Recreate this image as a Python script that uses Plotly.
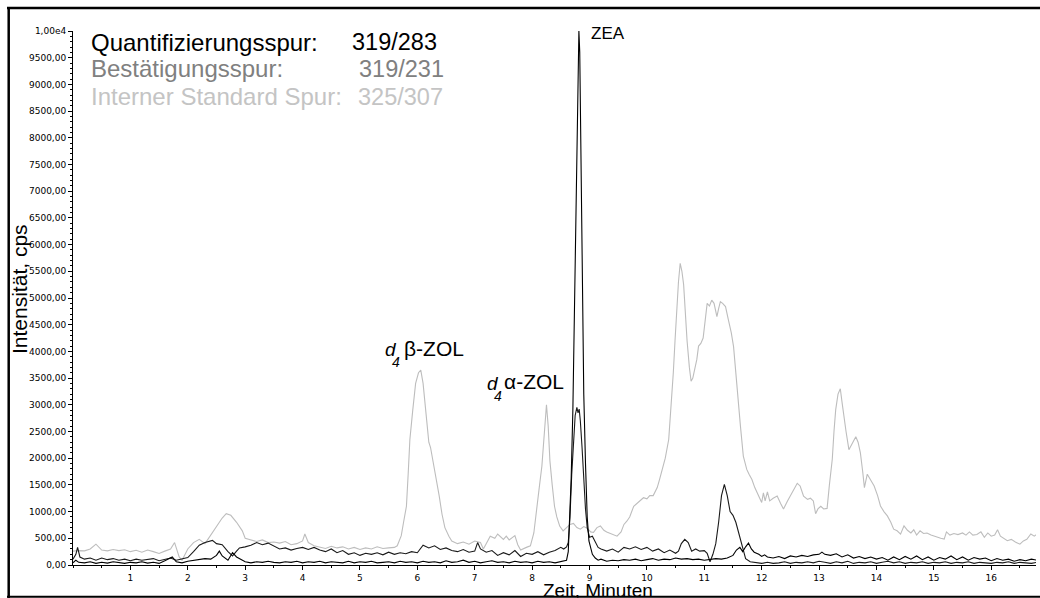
import plotly.graph_objects as go

# ---------------- data ----------------
# Interner Standard Spur 325/307 (light grey)
is_t = [0.0, 0.1, 0.2, 0.3, 0.4, 0.5, 0.6, 0.7, 0.8, 0.9, 1.0, 1.1, 1.2, 1.3, 1.4, 1.5, 1.6, 1.7, 1.77, 1.85,
        1.9, 2.0, 2.1, 2.2, 2.3, 2.4, 2.5, 2.6, 2.67, 2.75, 2.85, 2.95, 3.0, 3.1, 3.2, 3.3, 3.4, 3.5, 3.6, 3.7,
        3.8, 3.9, 4.0, 4.04, 4.1, 4.2, 4.3, 4.4, 4.5, 4.6, 4.7, 4.8, 4.9, 5.0, 5.1, 5.2, 5.3, 5.4, 5.5, 5.6,
        5.65, 5.72, 5.76, 5.81, 5.84, 5.87, 5.92, 5.97, 6.02, 6.06, 6.10, 6.15, 6.2, 6.23, 6.28, 6.33, 6.38, 6.43, 6.48, 6.55,
        6.6, 6.7, 6.8, 6.9, 7.0, 7.1, 7.15, 7.2, 7.27, 7.35, 7.4, 7.5, 7.55, 7.6, 7.7, 7.75, 7.8, 7.9, 7.97, 8.03,
        8.08, 8.13, 8.17, 8.21, 8.25, 8.28, 8.31, 8.35, 8.39, 8.43, 8.48, 8.54, 8.6, 8.66, 8.72, 8.78, 8.84, 8.9, 8.96, 9.02,
        9.07, 9.13, 9.19, 9.25, 9.3, 9.4, 9.48, 9.55, 9.6, 9.65, 9.7, 9.77, 9.82, 9.88, 9.94, 10.0, 10.05, 10.11, 10.18, 10.22,
        10.26, 10.32, 10.38, 10.42, 10.46, 10.49, 10.52, 10.55, 10.58, 10.61, 10.64, 10.67, 10.70, 10.74, 10.77, 10.80, 10.84, 10.87, 10.90, 10.94,
        10.98, 11.02, 11.05, 11.09, 11.13, 11.17, 11.2, 11.22, 11.25, 11.28, 11.32, 11.37, 11.42, 11.47, 11.51, 11.54, 11.57, 11.6, 11.63, 11.68,
        11.74, 11.78, 11.83, 11.88, 11.92, 11.96, 12.0, 12.03, 12.06, 12.1, 12.14, 12.2, 12.27, 12.33, 12.38, 12.45, 12.5, 12.55, 12.62, 12.67,
        12.73, 12.8, 12.85, 12.9, 12.94, 12.98, 13.03, 13.08, 13.14, 13.18, 13.23, 13.26, 13.29, 13.33, 13.37, 13.40, 13.43, 13.47, 13.52, 13.57,
        13.64, 13.68, 13.72, 13.76, 13.79, 13.84, 13.9, 13.96, 14.02, 14.07, 14.13, 14.19, 14.25, 14.3, 14.36, 14.42, 14.48, 14.54, 14.6, 14.65,
        14.7, 14.76, 14.82, 14.88, 14.95, 15.0, 15.06, 15.12, 15.18, 15.22, 15.28, 15.35, 15.42, 15.5, 15.56, 15.62, 15.68, 15.75, 15.82, 15.88,
        15.94, 16.0, 16.06, 16.11, 16.16, 16.22, 16.28, 16.35, 16.42, 16.5, 16.56, 16.62, 16.69, 16.75, 16.8]
is_v = [260, 270, 265, 300, 390, 280, 265, 290, 270, 285, 250, 275, 240, 280, 250, 215, 260, 300, 420, 150,
        90, 300, 420, 480, 400, 560, 700, 880, 960, 930, 800, 640, 500, 470, 440, 470, 420, 430, 410, 440,
        380, 400, 450, 580, 420, 360, 340, 310, 350, 320, 340, 300, 330, 290, 320, 300, 340, 310, 320, 330,
        360, 550, 800, 1100, 1700, 2350, 2900, 3400, 3600, 3650, 3400, 2900, 2300, 2200, 1900, 1650, 1300, 950, 700, 540,
        450, 400, 430, 390, 450, 420, 300, 400, 540, 500, 580, 480, 540, 470, 550, 380, 280, 330, 360, 600,
        1000, 1500, 1850, 2400, 3000, 2600, 1950, 1500, 1100, 900, 730, 640, 700, 760, 780, 700, 670, 720, 690, 620,
        610, 700, 730, 650, 620, 580, 540, 620, 760, 820, 900, 1100, 1150, 1200, 1260, 1240, 1300, 1300, 1450, 1600,
        1750, 2000, 2350, 2900, 3600, 4200, 4850, 5300, 5650, 5500, 5250, 4700, 4200, 3700, 3440, 3500, 3720, 3850, 4100, 4150,
        4250, 4600, 4900, 4850, 4960, 4900, 4700, 4650, 4800, 4930, 4900, 4840, 4590, 4350, 4090, 3700, 3280, 2900, 2600, 2040,
        1790, 1700, 1600, 1450, 1356, 1250, 1170, 1350, 1200, 1370, 1200, 1250, 1290, 1150, 1050, 1200, 1300, 1400, 1530, 1480,
        1290, 1230, 1250, 1200, 960, 1050, 1100, 1050, 1060, 1500, 1980, 2500, 2910, 3200, 3300, 3050, 2850, 2500, 2160, 2250,
        2400, 2300, 2100, 1750, 1450, 1700, 1600, 1480, 1300, 1106, 1000, 920, 800, 672, 640, 578, 733, 650, 600, 660,
        560, 640, 590, 600, 560, 540, 520, 500, 485, 620, 560, 590, 570, 600, 560, 620, 560, 570, 620, 520,
        600, 540, 560, 660, 540, 500, 454, 480, 430, 390, 450, 480, 580, 540, 580]

# Quantifizierungsspur 319/283 (black)
quant_t = [0.0, 0.05, 0.1, 0.2, 0.3, 0.4, 0.5, 0.6, 0.7, 0.8, 0.9, 1.0, 1.1, 1.2, 1.3, 1.4, 1.5, 1.6, 1.73, 1.8,
           1.9, 2.0, 2.1, 2.2, 2.3, 2.4, 2.5, 2.55, 2.6, 2.7, 2.78, 2.85, 2.95, 3.0, 3.1, 3.2, 3.3, 3.4, 3.5, 3.6,
           3.7, 3.8, 3.9, 4.0, 4.1, 4.2, 4.3, 4.4, 4.5, 4.6, 4.7, 4.8, 4.9, 5.0, 5.1, 5.2, 5.3, 5.4, 5.5, 5.6,
           5.7, 5.8, 5.9, 6.0, 6.1, 6.2, 6.3, 6.4, 6.5, 6.6, 6.7, 6.8, 6.9, 7.0, 7.1, 7.2, 7.3, 7.4, 7.5, 7.6,
           7.7, 7.8, 7.9, 8.0, 8.1, 8.2, 8.3, 8.4, 8.5, 8.56, 8.60, 8.63, 8.65, 8.68, 8.71, 8.74, 8.77, 8.80, 8.815, 8.83,
           8.85, 8.87, 8.90, 8.93, 8.96, 8.99, 9.02, 9.05, 9.1, 9.15, 9.2, 9.3, 9.4, 9.5, 9.6, 9.7, 9.8, 9.9, 10.0, 10.1,
           10.2, 10.3, 10.4, 10.5, 10.6, 10.7, 10.8, 10.9, 11.0, 11.1, 11.2, 11.3, 11.4, 11.5, 11.56, 11.62, 11.67, 11.72, 11.77, 11.82,
           11.87, 11.95, 12.0, 12.05, 12.1, 12.2, 12.3, 12.4, 12.5, 12.6, 12.7, 12.8, 12.9, 13.0, 13.05, 13.1, 13.2, 13.3, 13.4, 13.5,
           13.6, 13.7, 13.8, 13.9, 14.0, 14.1, 14.2, 14.3, 14.4, 14.5, 14.6, 14.7, 14.8, 14.9, 15.0, 15.1, 15.2, 15.3, 15.4, 15.5,
           15.6, 15.7, 15.8, 15.9, 16.0, 16.1, 16.2, 16.3, 16.4, 16.5, 16.6, 16.7, 16.8]
quant_v = [40, 90, 50, 40, 60, 30, 50, 35, 60, 40, 30, 50, 40, 60, 35, 50, 30, 80, 150, 60,
           40, 70, 90, 100, 120, 110, 180, 260, 170, 90, 230, 150, 100, 60, 40, 60, 50, 70, 50, 40,
           60, 50, 70, 40, 60, 50, 70, 40, 60, 50, 40, 70, 40, 60, 50, 70, 40, 50, 60, 40,
           70, 50, 60, 40, 70, 50, 60, 40, 80, 50, 60, 90, 50, 70, 40, 60, 80, 50, 60, 40,
           70, 50, 60, 40, 70, 50, 60, 40, 60, 70, 90, 250, 700, 1600, 2900, 5000, 7300, 9700, 10000, 9600,
           7800, 5300, 3200, 1900, 900, 450, 300, 200, 130, 90, 110, 70, 90, 80, 100, 90, 110, 80, 100, 120,
           90, 110, 100, 130, 110, 120, 100, 110, 90, 100, 120, 110, 130, 180, 280, 330, 250, 340, 410, 300,
           240, 200, 160, 190, 150, 130, 160, 120, 170, 150, 180, 160, 190, 200, 240, 200, 180, 210, 150, 190,
           130, 160, 120, 150, 110, 140, 90, 150, 100, 160, 110, 170, 100, 150, 90, 140, 110, 170, 100, 150,
           90, 140, 110, 130, 80, 120, 90, 110, 70, 100, 80, 110, 90]

# Bestaetigungsspur 319/231 (dark)
conf_t = [0.0, 0.05, 0.08, 0.12, 0.2, 0.3, 0.4, 0.5, 0.6, 0.7, 0.8, 0.9, 1.0, 1.1, 1.2, 1.3, 1.4, 1.5, 1.6, 1.7,
          1.8, 1.9, 2.0, 2.1, 2.2, 2.3, 2.35, 2.43, 2.5, 2.6, 2.7, 2.78, 2.85, 2.9, 3.0, 3.1, 3.2, 3.3, 3.4, 3.5,
          3.6, 3.7, 3.8, 3.9, 4.0, 4.1, 4.2, 4.3, 4.4, 4.5, 4.6, 4.7, 4.8, 4.9, 5.0, 5.1, 5.2, 5.3, 5.4, 5.5,
          5.6, 5.7, 5.8, 5.9, 6.0, 6.1, 6.2, 6.3, 6.4, 6.5, 6.6, 6.7, 6.8, 6.9, 7.0, 7.05, 7.1, 7.2, 7.3, 7.4,
          7.5, 7.6, 7.7, 7.8, 7.9, 8.0, 8.1, 8.2, 8.3, 8.4, 8.5, 8.55, 8.6, 8.63, 8.66, 8.69, 8.72, 8.75, 8.78, 8.80,
          8.82, 8.84, 8.87, 8.90, 8.93, 8.96, 9.0, 9.05, 9.1, 9.15, 9.2, 9.3, 9.4, 9.5, 9.6, 9.7, 9.8, 9.9, 10.0, 10.1,
          10.2, 10.3, 10.4, 10.5, 10.55, 10.6, 10.66, 10.72, 10.78, 10.85, 10.92, 11.0, 11.05, 11.1, 11.15, 11.2, 11.25, 11.3, 11.35, 11.4,
          11.45, 11.5, 11.55, 11.6, 11.64, 11.68, 11.72, 11.8, 11.9, 12.0, 12.1, 12.2, 12.3, 12.4, 12.5, 12.6, 12.7, 12.8, 12.9, 13.0,
          13.1, 13.2, 13.3, 13.4, 13.5, 13.6, 13.7, 13.8, 13.9, 14.0, 14.1, 14.2, 14.3, 14.4, 14.5, 14.6, 14.7, 14.8, 14.9, 15.0,
          15.1, 15.2, 15.3, 15.4, 15.5, 15.6, 15.7, 15.8, 15.9, 16.0, 16.1, 16.2, 16.3, 16.4, 16.5, 16.6, 16.7, 16.8]
conf_v = [110, 200, 330, 150, 110, 130, 90, 130, 100, 120, 90, 110, 80, 110, 90, 100, 120, 80, 110, 130,
          90, 110, 140, 250, 370, 420, 440, 460, 400, 380, 250, 170, 260, 320, 340, 370, 420, 380, 410, 360,
          300, 320, 280, 310, 330, 290, 330, 280, 250, 300, 230, 270, 200, 230, 180, 220, 200, 230, 190, 240,
          200, 230, 210, 250, 230, 370, 320, 360, 290, 320, 270, 250, 290, 240, 260, 420, 300, 240, 270, 180,
          230, 190, 270, 160, 220, 200, 250, 190, 240, 270, 330, 300, 340, 420, 900, 1700, 2400, 2800, 2950, 2850,
          2920, 2700, 2200, 1600, 1050, 700, 520, 540, 420, 330, 300, 260, 300, 240, 330, 300, 340, 290, 330, 260,
          300, 230, 280, 220, 260, 400, 480, 420, 260, 300, 260, 270, 220, 60, 200, 400, 800, 1300, 1510, 1300,
          1000, 930, 800, 600, 420, 250, 120, 60, 40, 30, 50, 30, 40, 60, 30, 50, 40, 60, 40, 70,
          50, 30, 60, 40, 70, 30, 50, 40, 60, 30, 50, 70, 40, 60, 30, 50, 40, 60, 30, 50,
          40, 60, 30, 50, 40, 60, 30, 50, 40, 30, 50, 40, 60, 30, 50, 40, 30, 50]

y_tick_vals = [0, 500, 1000, 1500, 2000, 2500, 3000, 3500, 4000, 4500, 5000,
               5500, 6000, 6500, 7000, 7500, 8000, 8500, 9000, 9500, 10000]
y_tick_text = ["0,00", "500,00", "1000,00", "1500,00", "2000,00", "2500,00", "3000,00",
               "3500,00", "4000,00", "4500,00", "5000,00", "5500,00", "6000,00", "6500,00",
               "7000,00", "7500,00", "8000,00", "8500,00", "9000,00", "9500,00", "1,00e4"]
x_tick_vals = [1, 2, 3, 4, 5, 6, 7, 8, 9, 10, 11, 12, 13, 14, 15, 16]

# ---------------- layout geometry (screen pixels) ----------------
W, H = 1040, 598
# plot area on screen: x 73..1036, y 31..565
ML, MR, MT, MB = 73, 4, 31, 598 - 565
X_MAX = 16.78
PW, PH = W - ML - MR, H - MT - MB


def fx(p):  # screen pixel x -> paper
    return (p - ML) / PW


def fy(p):  # screen pixel y -> paper
    return (H - MB - p) / PH


SANS = "Liberation Sans, Arial, sans-serif"

fig = go.Figure()
fig.add_trace(go.Scatter(x=is_t, y=is_v, mode="lines", line=dict(color="#bdbdbd", width=1.1),
                         name="325/307", showlegend=False))
fig.add_trace(go.Scatter(x=conf_t, y=conf_v, mode="lines", line=dict(color="#1a1a1a", width=1.1),
                         name="319/231", showlegend=False))
fig.add_trace(go.Scatter(x=quant_t, y=quant_v, mode="lines", line=dict(color="#000000", width=1.1),
                         name="319/283", showlegend=False))

ann = []


def txt(text, x, y, size, color="black", xanchor="left", angle=0, italic=False):
    ann.append(dict(text=text, x=fx(x), y=fy(y), xref="paper", yref="paper", showarrow=False,
                    xanchor=xanchor, yanchor="middle", textangle=angle,
                    font=dict(family=SANS, size=size, color=color,
                              style="italic" if italic else "normal")))


# legend-like texts
txt("Quantifizierungsspur:", 89, 42, 24, "black")
txt("319/283", 350, 42, 23.5, "black")
txt("Bestätigungsspur:", 89, 69, 24, "#808080")
txt("319/231", 357, 69, 23.5, "#808080")
txt("Interner Standard Spur:", 89, 97, 24, "#c4c4c4")
txt("325/307", 356, 97, 23.5, "#c4c4c4")

# peak labels
txt("ZEA", 589, 33, 17)
txt("d", 383, 349, 19, italic=True)
txt("4", 390, 362, 14, italic=True)
txt("β-ZOL", 402, 348, 21)
txt("d", 485, 383, 19, italic=True)
txt("4", 492, 396, 14, italic=True)
txt("α-ZOL", 502, 381, 21)

# axis titles
txt("Intensität, cps", 19, 289, 21, angle=-90, xanchor="center")
txt("Zeit, Minuten", 598, 590, 19, xanchor="center")

fig.update_layout(
    width=W, height=H,
    margin=dict(l=ML, r=MR, t=MT, b=MB, pad=0),
    paper_bgcolor="white", plot_bgcolor="white",
    showlegend=False,
    annotations=ann,
    shapes=[
        dict(type="line", xref="paper", yref="paper", x0=fx(7), x1=fx(1045), y0=fy(8), y1=fy(8),
             line=dict(color="black", width=2.5)),
        dict(type="line", xref="paper", yref="paper", x0=fx(8.7), x1=fx(8.7), y0=fy(7), y1=fy(600),
             line=dict(color="black", width=2.5)),
        dict(type="line", xref="paper", yref="paper", x0=fx(7), x1=fx(1045), y0=fy(596.8), y1=fy(596.8),
             line=dict(color="black", width=2)),
    ],
    xaxis=dict(range=[0, X_MAX], showgrid=False, zeroline=False, showline=True, linecolor="black",
               linewidth=1, ticks="outside", ticklen=4, tickcolor="black", tickwidth=1,
               tickvals=x_tick_vals, ticktext=[str(v) for v in x_tick_vals],
               tickfont=dict(family="DejaVu Sans", size=9, color="black"),
               minor=dict(dtick=0.5, tick0=0, ticks="outside", ticklen=2, tickcolor="black", showgrid=False)),
    yaxis=dict(range=[0, 10000], showgrid=False, zeroline=False, showline=True, linecolor="black",
               linewidth=1, ticks="outside", ticklen=4, tickcolor="black", tickwidth=1,
               tickvals=y_tick_vals, ticktext=y_tick_text,
               tickfont=dict(family="DejaVu Sans", size=9, color="black"),
               minor=dict(dtick=100, tick0=0, ticks="outside", ticklen=2, tickcolor="black", showgrid=False)),
)

# remove the default page margin so the 1040x598 figure fills the window exactly
fig.write_html("out.html",
               config={"displayModeBar": False},
               post_script="document.body.style.margin='0';document.body.style.overflow='hidden';")
